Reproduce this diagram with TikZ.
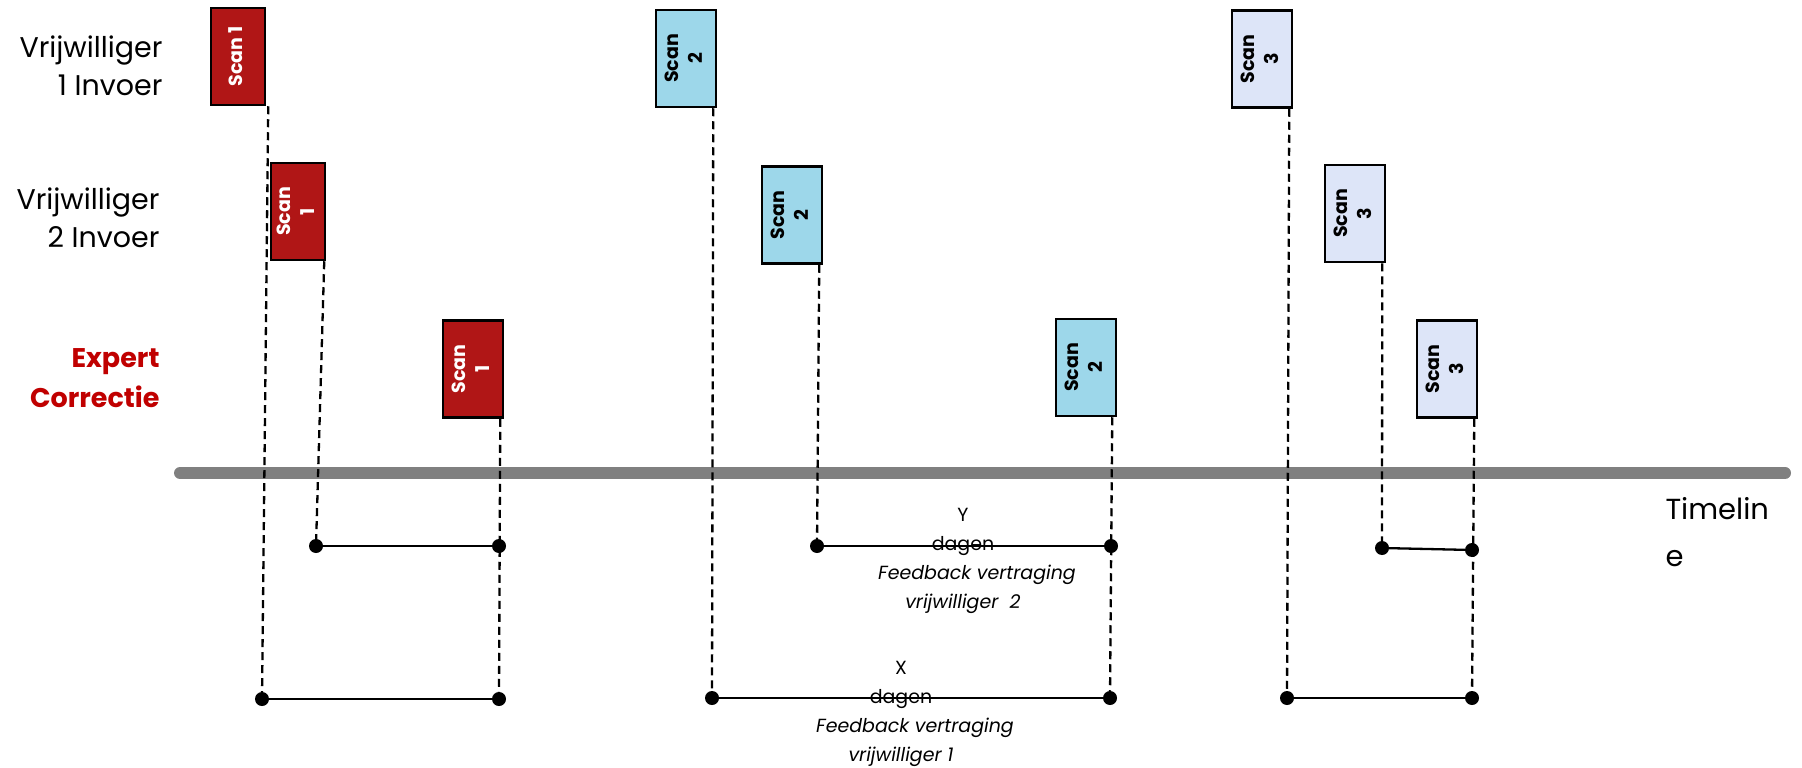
\documentclass[tikz,border=0pt]{standalone}
\usepackage{fontspec}
\setmainfont{Poppins}
\usetikzlibrary{calc}
\definecolor{scanred}{HTML}{B01616}
\definecolor{scanblue}{HTML}{9DD7EA}
\definecolor{scanlav}{HTML}{DDE5F8}
\definecolor{expred}{HTML}{C00000}
\definecolor{barGray}{HTML}{808080}
\tikzset{
  scanbox/.style={draw=black, line width=2.5pt, inner sep=0pt, minimum width=60pt, minimum height=97pt,
    font=\fontsize{19}{24}\selectfont\bfseries},
  redbox/.style={scanbox, fill=scanred, text=white},
  bluebox/.style={scanbox, fill=scanblue, text=black},
  lavbox/.style={scanbox, fill=scanlav, text=black},
  dotnode/.style={circle, fill=black, inner sep=0pt, minimum size=14pt},
  guide/.style={draw=black, line width=2.3pt, dash pattern=on 8pt off 5pt},
  conn/.style={draw=black, line width=2.3pt},
  rowlabel/.style={anchor=east, align=right, font=\fontsize{28.5}{38}\selectfont},
  delaylabel/.style={align=center, font=\fontsize{19}{29}\selectfont}
}
\newcommand{\scantxt}[1]{\rotatebox{90}{\begin{tabular}{@{}c@{}}#1\end{tabular}}}
\begin{document}
\begin{tikzpicture}[x=1pt,y=-1pt]
\useasboundingbox (0,0) rectangle (1802,768);
% timeline bar
\draw[barGray, line width=12pt, line cap=round] (180,473) -- (1785,473);

% row labels
\node[rowlabel] (l1) at (166,66) {Vrijwilliger\\1 Invoer};
\node[rowlabel] (l2) at (163,218) {Vrijwilliger\\2 Invoer};
\node[rowlabel, text=expred, font=\fontsize{27}{40}\selectfont\bfseries] (l3) at (163,378) {Expert\\Correctie};
\node[anchor=west, align=left, font=\fontsize{29}{47}\selectfont] (tl) at (1662,532) {Timelin\\e};

% scan boxes
\node[redbox, minimum width=54pt] (v1s1) at (238,56.5) {\scantxt{Scan 1}};
\node[redbox, minimum width=54pt] (v2s1) at (298,211.5) {\scantxt{Scan\\1}};
\node[redbox] (es1) at (473,369) {\scantxt{Scan\\1}};
\node[bluebox] (v1s2) at (686,58.5) {\scantxt{Scan\\2}};
\node[bluebox] (v2s2) at (792,215) {\scantxt{Scan\\2}};
\node[bluebox] (es2) at (1086,367.5) {\scantxt{Scan\\2}};
\node[lavbox] (v1s3) at (1262,59) {\scantxt{Scan\\3}};
\node[lavbox] (v2s3) at (1355,213.5) {\scantxt{Scan\\3}};
\node[lavbox] (es3) at (1447,369) {\scantxt{Scan\\3}};

% dots
\node[dotnode] (a1) at (316,546) {};
\node[dotnode] (a2) at (499,546) {};
\node[dotnode] (b1) at (262,699) {};
\node[dotnode] (b2) at (499,699) {};
\node[dotnode] (c1) at (817,546) {};
\node[dotnode] (c2) at (1111,546) {};
\node[dotnode] (d1) at (712,698) {};
\node[dotnode] (d2) at (1110,698) {};
\node[dotnode] (e1) at (1382,548) {};
\node[dotnode] (e2) at (1472,550) {};
\node[dotnode] (f1) at (1287,698) {};
\node[dotnode] (f2) at (1472,698) {};

% dashed guides
\draw[guide] ($(v1s1.south east)+(2,0)$) -- (b1.center);
\draw[guide] ($(v2s1.south east)+(-2,0)$) -- (a1.center);
\draw[guide] ($(es1.south east)+(-4,0)$) -- (b2.center);
\draw[guide] ($(v1s2.south east)+(-4,0)$) -- (d1.center);
\draw[guide] ($(v2s2.south east)+(-4,0)$) -- (c1.center);
\draw[guide] ($(es2.south east)+(-5,0)$) -- (d2.center);
\draw[guide] ($(v1s3.south east)+(-4,0)$) -- (f1.center);
\draw[guide] ($(v2s3.south east)+(-4,0)$) -- (e1.center);
\draw[guide] ($(es3.south east)+(-4,0)$) -- (f2.center);

% solid connectors
\draw[conn] (a1) -- (a2);
\draw[conn] (b1) -- (b2);
\draw[conn] (c1) -- (c2);
\draw[conn] (d1) -- (d2);
\draw[conn] (e1) -- (e2);
\draw[conn] (f1) -- (f2);

% delay labels
\node[delaylabel] (ylab) at (963,561) {Y\\dagen\\\textit{\hspace*{28pt}Feedback vertraging}\\\textit{vrijwilliger\ \ 2}};
\node[delaylabel] (xlab) at (901,714) {X\\dagen\\\textit{\hspace*{28pt}Feedback vertraging}\\\textit{vrijwilliger 1}};
\end{tikzpicture}
\end{document}
